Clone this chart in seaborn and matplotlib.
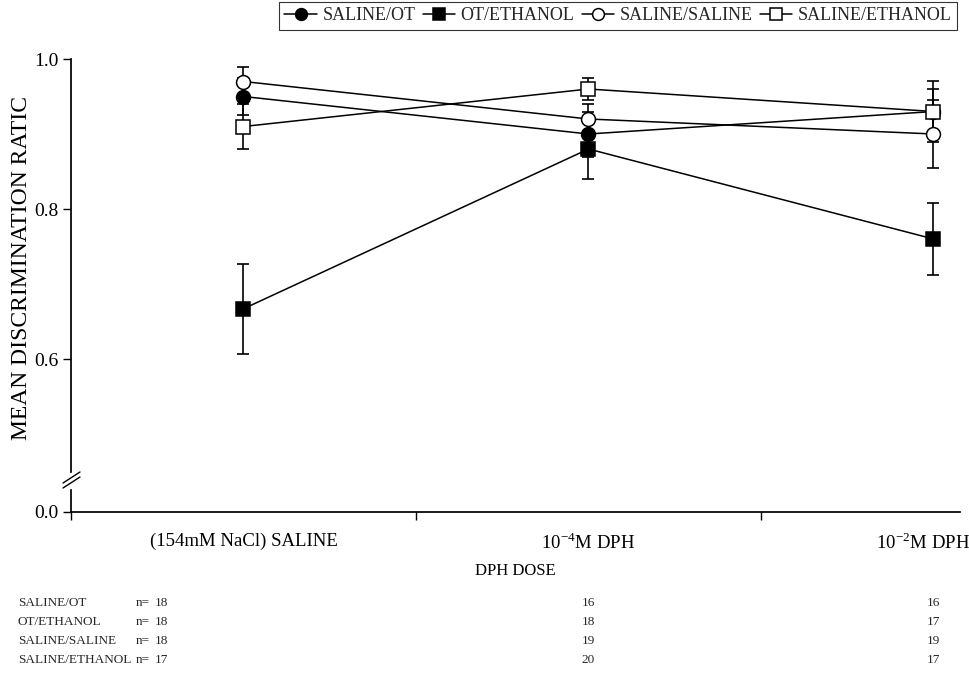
import numpy as np
import pandas as pd
import seaborn as sns
import matplotlib.pyplot as plt
from matplotlib.lines import Line2D
from matplotlib.transforms import blended_transform_factory, ScaledTranslation

# Data
doses = ['(154mM NaCl) SALINE', '10$^{\\mathregular{-4}}$M DPH', '10$^{\\mathregular{-2}}$M DPH']
groups = ['SALINE/OT', 'OT/ETHANOL', 'SALINE/SALINE', 'SALINE/ETHANOL']
saline_ot = [0.95, 0.90, 0.93]
ot_ethanol = [0.667, 0.88, 0.76]
saline_saline = [0.97, 0.92, 0.90]
saline_ethanol = [0.91, 0.96, 0.93]
saline_ot_err = [0.025, 0.03, 0.03]
ot_ethanol_err = [0.06, 0.04, 0.048]
saline_saline_err = [0.02, 0.02, 0.045]
saline_ethanol_err = [0.03, 0.015, 0.04]
n_saline_ot = [18, 16, 16]
n_ot_ethanol = [18, 18, 17]
n_saline_saline = [18, 19, 19]
n_saline_ethanol = [17, 20, 17]

means = [saline_ot, ot_ethanol, saline_saline, saline_ethanol]
errs = [saline_ot_err, ot_ethanol_err, saline_saline_err, saline_ethanol_err]
ns = [n_saline_ot, n_ot_ethanol, n_saline_saline, n_saline_ethanol]
markers = ['o', 's', 'o', 's']
faces = ['black', 'black', 'white', 'white']

sns.set_theme(style='ticks')
plt.rcParams['font.family'] = ['Liberation Serif', 'DejaVu Serif']
plt.rcParams['mathtext.fontset'] = 'stix'

fig = plt.figure(figsize=(9.7, 6.98), dpi=100)
W, H = 970, 698
ax = fig.add_axes([71 / W, 1 - 472 / H, (960 - 71) / W, (472 - 59) / H])
ax0 = fig.add_axes([71 / W, 1 - 512 / H, (960 - 71) / W, (512 - 490) / H], sharex=ax)

xpos = np.arange(len(doses))
for name, m, e, mk, fc in zip(groups, means, errs, markers, faces):
    df = pd.DataFrame({'x': xpos, 'y': m})
    ax.errorbar(xpos, m, yerr=e, fmt='none', ecolor='black', elinewidth=1.2,
                capsize=4, capthick=1.2, zorder=2)
    sns.lineplot(data=df, x='x', y='y', ax=ax, color='black', linewidth=1.1,
                 marker=mk, markersize=10, markerfacecolor=fc,
                 markeredgecolor='black', markeredgewidth=1.1, label=name, zorder=3)

handles, labels = ax.get_legend_handles_labels()
ax.get_legend().remove()
leg = fig.legend(handles, labels, loc='upper right', bbox_to_anchor=(957 / W, 1 - 2 / H),
                 ncol=4, frameon=True, fancybox=False, edgecolor='black',
                 fontsize=13, handlelength=1.8, handletextpad=0.3, columnspacing=0.4,
                 borderpad=0.3, borderaxespad=0, markerscale=0.85)
leg.get_frame().set_linewidth(0.8)

# top axes
ax.set_ylim(1.0 - (472 - 59) / 750, 1.0)
ax.set_yticks([0.6, 0.8, 1.0])
ax.set_yticklabels(['0.6', '0.8', '1.0'])
ax.set_xlim(-0.5, -0.5 + (960 - 71) / 345)
for s in ['top', 'right', 'bottom']:
    ax.spines[s].set_visible(False)
ax.spines['left'].set_color('black')
ax.tick_params(axis='x', bottom=False, labelbottom=False, which='both')
ax.tick_params(axis='y', direction='out', length=6, width=1, color='black',
               labelsize=14, labelcolor='black', pad=3)
ax.set_xlabel('')
ax.set_ylabel('MEAN DISCRIMINATION RATIC', fontsize=17, color='black')
ax.yaxis.set_label_coords(-0.044, 0.494)
ax.set_facecolor('white')

# bottom axes (0.0 segment)
ax0.set_ylim(0, 0.03)
ax0.set_yticks([0.0])
ax0.set_yticklabels(['0.0'])
for s in ['top', 'right']:
    ax0.spines[s].set_visible(False)
ax0.spines['left'].set_color('black')
ax0.spines['bottom'].set_color('black')
ax0.set_facecolor('none')
ax0.set_xticks(xpos)
ax0.set_xticklabels(doses)
ax0.set_xticks([-0.5, 0.5, 1.5], minor=True)
ax0.tick_params(axis='x', which='major', length=0, labelsize=13.5, labelcolor='black', pad=15)
ax0.tick_params(axis='x', which='minor', direction='out', length=6, width=1, color='black')
ax0.tick_params(axis='y', direction='out', length=6, width=1, color='black',
                labelsize=14, labelcolor='black', pad=3)
ax0.set_xlabel('DPH DOSE', fontsize=12, color='black', labelpad=7)
last = ax0.get_xticklabels()[-1]
last.set_transform(last.get_transform() + ScaledTranslation(-0.1, 0, fig.dpi_scale_trans))

# axis break marks
for dy in (0, 5):
    fig.add_artist(Line2D([63 / W, 80 / W], [1 - (488 - dy) / H, 1 - (477 - dy) / H],
                          color='black', linewidth=1))

# n table
rows_y = [603, 622, 641, 660]
tr = blended_transform_factory(ax0.transData, fig.transFigure)
for name, n, yy in zip(groups, ns, rows_y):
    fy = 1 - yy / H
    fig.text(18 / W, fy, name, fontsize=9.5, va='center', ha='left')
    fig.text(136 / W, fy, 'n=', fontsize=9.5, va='center', ha='left')
    fig.text(155 / W, fy, str(n[0]), fontsize=9.5, va='center', ha='left')
    for k in (1, 2):
        fig.text(xpos[k], fy, str(n[k]), fontsize=9.5, va='center', ha='center', transform=tr)

fig.savefig('out.png', dpi=100, facecolor='white')
